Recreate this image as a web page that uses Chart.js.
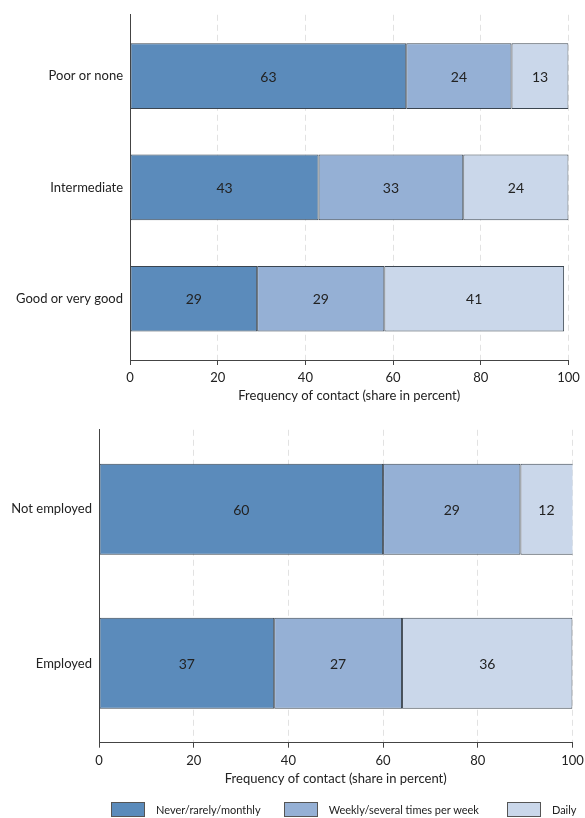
<!DOCTYPE html>
<html>
<head>
<meta charset="utf-8">
<title>Frequency of contact</title>
<script src="https://cdn.jsdelivr.net/npm/chart.js@4.4.1/dist/chart.umd.min.js"></script>
<style>
  html, body { margin: 0; padding: 0; background: #fff; }
  #wrap { position: relative; width: 585px; height: 818px; font-family: Lato, sans-serif; }
  #wrap canvas { position: absolute; left: 0; }
  #legend { position: absolute; left: 111px; top: 802px; display: flex; align-items: center;
            font-size: 11px; line-height: 15px; color: #222; white-space: nowrap; }
  #legend .item { display: flex; align-items: center; margin-right: 23px; }
  #legend .item:nth-child(2) { margin-right: 28px; }
  #legend .box { width: 32px; height: 13px; border: 1px solid #555; margin-right: 11px; }
</style>
</head>
<body>
<div id="wrap">
  <canvas id="health" width="585" height="410" style="top:0"></canvas>
  <canvas id="employment" width="585" height="403" style="top:415px"></canvas>
  <div id="legend"></div>
</div>
<script>
// Contact frequency series
const seriesNames = ['Never/rarely/monthly', 'Weekly/several times per week', 'Daily'];
const seriesColors = ['#5b8bbb', '#95b0d5', '#cad7ea'];

// Panel 1: by health status
const healthCategories = ['Poor or none', 'Intermediate', 'Good or very good'];
const healthNever  = [63, 43, 29];
const healthWeekly = [24, 33, 29];
const healthDaily  = [13, 24, 41];

// Panel 2: by employment status
const employmentCategories = ['Not employed', 'Employed'];
const employmentNever  = [60, 37];
const employmentWeekly = [29, 27];
const employmentDaily  = [12, 36];

// Shared value axis
const xTickValues = [0, 20, 40, 60, 80, 100];
const xTitle = 'Frequency of contact (share in percent)';

Chart.defaults.font.family = 'Lato, sans-serif';
Chart.defaults.font.size = 13;
Chart.defaults.color = '#222';

// Writes each segment's value in the middle of its bar
const segmentLabels = {
  id: 'segmentLabels',
  afterDatasetsDraw(chart) {
    const ctx = chart.ctx;
    ctx.save();
    ctx.font = '14px Lato, sans-serif';
    ctx.fillStyle = '#222';
    ctx.textAlign = 'center';
    ctx.textBaseline = 'middle';
    chart.data.datasets.forEach((ds, di) => {
      chart.getDatasetMeta(di).data.forEach((bar, i) => {
        const p = bar.getProps(['x', 'base', 'y'], true);
        const end = Math.min(p.x, chart.chartArea.right);
        ctx.fillText(String(ds.data[i].x), (end + p.base) / 2, p.y + 1);
      });
    });
    ctx.restore();
  }
};

function makePanel(id, categories, series, layout) {
  const datasets = series.map((values, s) => ({
    label: seriesNames[s],
    data: values.map((v, i) => ({ x: v, y: i })),
    backgroundColor: seriesColors[s],
    borderColor: '#3b4550',
    borderWidth: 1,
    borderSkipped: false,
    categoryPercentage: 1,
    barPercentage: 0.59
  }));

  return new Chart(document.getElementById(id), {
    type: 'bar',
    data: { datasets },
    plugins: [segmentLabels],
    options: {
      indexAxis: 'y',
      responsive: false,
      animation: false,
      layout: { padding: { left: 0, right: layout.padRight, top: layout.padTop, bottom: 0 } },
      plugins: { legend: { display: false }, tooltip: { enabled: false } },
      scales: {
        x: {
          type: 'linear',
          stacked: true,
          min: 0,
          max: 100,
          afterBuildTicks: (scale) => { scale.ticks = xTickValues.map(v => ({ value: v })); },
          afterFit: (scale) => {
            scale.height = layout.axisHeight;
            scale.paddingLeft = 0;
            scale.paddingRight = 0;
          },
          ticks: { padding: 5, color: '#222', font: { size: 13 } },
          grid: {
            color: (c) => (c.tick && c.tick.value === 0) ? 'rgba(0,0,0,0)' : '#e2e2e2',
            lineWidth: 1,
            tickLength: 5,
            tickColor: '#444',
            tickBorderDash: []
          },
          border: { display: true, color: '#444', width: 1, dash: [6, 4] },
          title: {
            display: true,
            text: xTitle,
            color: '#222',
            font: { size: 13 },
            padding: { top: 0, bottom: layout.titlePadBottom }
          }
        },
        y: {
          type: 'linear',
          stacked: true,
          reverse: true,
          offset: false,
          min: -layout.yMargin,
          max: categories.length - 1 + layout.yMargin,
          afterBuildTicks: (scale) => { scale.ticks = categories.map((c, i) => ({ value: i })); },
          afterFit: (scale) => { scale.width = layout.plotLeft; },
          ticks: {
            autoSkip: false,
            padding: 7,
            color: '#222',
            font: { size: 13 },
            callback: (v) => categories[v]
          },
          grid: { display: false, drawTicks: false, offset: false },
          border: { display: true, color: '#444', width: 1 }
        }
      }
    }
  });
}

function buildLegend() {
  const legend = document.getElementById('legend');
  seriesNames.forEach((name, s) => {
    const item = document.createElement('div');
    item.className = 'item';
    const box = document.createElement('span');
    box.className = 'box';
    box.style.background = seriesColors[s];
    const text = document.createElement('span');
    text.textContent = name;
    item.appendChild(box);
    item.appendChild(text);
    legend.appendChild(item);
  });
}

function draw() {
  makePanel('health', healthCategories, [healthNever, healthWeekly, healthDaily], {
    plotLeft: 130, padRight: 16.5, padTop: 13, axisHeight: 50, titlePadBottom: 6, yMargin: 0.55
  });
  makePanel('employment', employmentCategories, [employmentNever, employmentWeekly, employmentDaily], {
    plotLeft: 99, padRight: 12.5, padTop: 13, axisHeight: 75.3, titlePadBottom: 31, yMargin: 0.515
  });
  buildLegend();
}

if (document.fonts && document.fonts.load) {
  document.fonts.load('13px Lato').then(draw, draw);
} else {
  draw();
}
</script>
</body>
</html>
